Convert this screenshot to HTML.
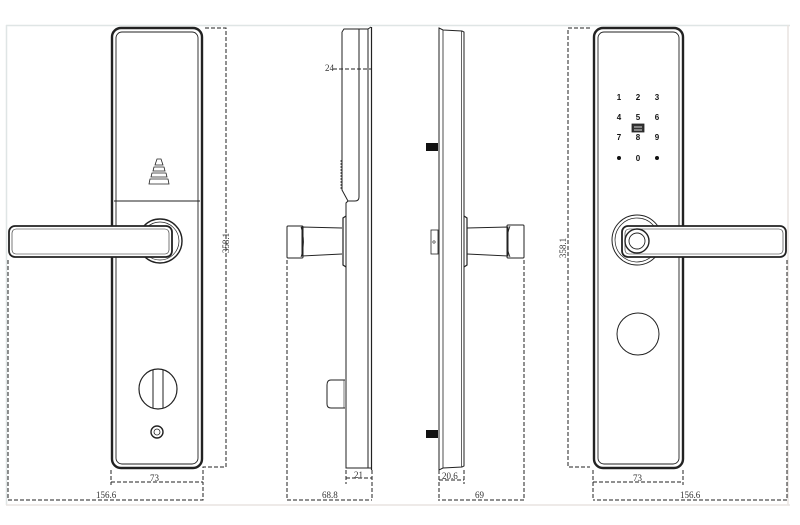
<!DOCTYPE html>
<html><head><meta charset="utf-8"><style>
html,body{margin:0;padding:0;background:#fff;}
svg{display:block;}
text{font-family:"Liberation Serif",serif;font-size:9px;fill:#333;}
.k{font-family:"Liberation Sans",sans-serif;font-size:8px;font-weight:bold;fill:#111;}
</style></head><body>
<svg width="800" height="525" viewBox="0 0 800 525" xmlns="http://www.w3.org/2000/svg">
<rect x="0" y="0" width="800" height="525" fill="#fff"/>
<line x1="6" y1="25.5" x2="790" y2="25.5" stroke="#dfe5e5" stroke-width="1.5"/>
<line x1="6.5" y1="25" x2="6.5" y2="505" stroke="#dfe5e5" stroke-width="1.5"/>
<line x1="788" y1="25" x2="788" y2="505" stroke="#e8e4e0" stroke-width="1.5"/>
<line x1="6" y1="505" x2="790" y2="505" stroke="#e8e4e0" stroke-width="1.5"/>

<g fill="none" stroke="#222">
<rect x="112" y="28" width="90" height="440" rx="9" stroke-width="2.4"/>
<rect x="116" y="32" width="82" height="432" rx="6" stroke-width="0.9"/>
<line x1="114" y1="201" x2="200" y2="201" stroke-width="0.9"/>
<circle cx="160" cy="241" r="22" stroke-width="1.4"/>
<circle cx="160" cy="241" r="19" stroke-width="0.7"/>
<rect x="9" y="226" width="163" height="31" rx="6" fill="#fff" stroke-width="1.8"/>
<rect x="12" y="229" width="157" height="25" rx="4" stroke-width="0.6"/>
<g stroke-width="0.8">
<path d="M157 159 L161 159 L163 165 L155 165 Z"/>
<path d="M154 167 L164 167 L165 171 L153 171 Z"/>
<path d="M152 173 L166 173 L167 177 L151 177 Z"/>
<path d="M150 179 L168 179 L169 184 L149 184 Z"/>
</g>
<ellipse cx="158" cy="389" rx="19" ry="20" stroke-width="1.2"/>
<line x1="153" y1="370" x2="153" y2="408" stroke-width="1"/>
<line x1="163" y1="370" x2="163" y2="408" stroke-width="1"/>
<circle cx="157" cy="432" r="6" stroke-width="1.4"/>
<circle cx="157" cy="432" r="3" stroke-width="0.8"/>

<path d="M342 32 L344 29 L359 29" stroke-width="1"/>
<path d="M342 32 L342 190 L348 201 L346 203 L346 468 L372 468" stroke-width="1"/>
<path d="M359 29 L359 197 Q359 201 355 201 L348 201" stroke-width="1"/>
<path d="M359 29 L368 29 L371 27" stroke-width="1"/>
<line x1="368" y1="29" x2="368" y2="468" stroke-width="1"/>
<line x1="371.5" y1="27" x2="371.5" y2="470" stroke-width="1.2"/>
<line x1="341" y1="160" x2="341" y2="190" stroke-width="0.7" stroke-dasharray="2 1"/>
<path d="M346 216 L343 218 L343 265 L346 267" stroke-width="1.2"/>
<path d="M342 228 L302 227 L302 256 L342 254" stroke-width="1"/>
<rect x="287" y="226" width="16" height="32" rx="1" stroke-width="1"/>
<path d="M301 227 Q306 242 301 257" stroke-width="0.8"/>
<path d="M345 380 L331 380 Q327 380 327 385 L327 404 Q327 408 331 408 L345 408" stroke-width="1"/>
<line x1="344" y1="380" x2="344" y2="408" stroke-width="0.6"/>

<path d="M439 28 L443 30 L462 31 L464 32 L464 466 L462 467 L443 468 L439 470 Z" stroke-width="1"/>
<line x1="443" y1="30" x2="443" y2="468" stroke-width="0.8"/>
<line x1="461.5" y1="31" x2="461.5" y2="467" stroke-width="0.7"/>
<rect x="431" y="230" width="7" height="24" stroke-width="0.8"/>
<circle cx="434" cy="242" r="1.2" stroke-width="0.6"/>
<path d="M464 216 L467 218 L467 265 L464 267" stroke-width="1.2"/>
<path d="M467 228 L508 227 L508 256 L467 254" stroke-width="1"/>
<rect x="507" y="225" width="17" height="33" rx="1" stroke-width="1"/>
<path d="M510 226 Q504 242 510 257" stroke-width="0.8"/>

<rect x="594" y="28" width="89" height="440" rx="9" stroke-width="2.4"/>
<rect x="598" y="32" width="81" height="432" rx="6" stroke-width="0.9"/>
<circle cx="637" cy="240" r="25" stroke-width="1"/>
<circle cx="637" cy="240" r="22" stroke-width="0.7"/>
<rect x="622" y="226" width="164" height="31" rx="6" fill="#fff" stroke-width="1.8"/>
<rect x="625" y="229" width="158" height="25" rx="4" stroke-width="0.6"/>
<circle cx="637" cy="241" r="12" fill="#fff" stroke-width="1.4"/>
<circle cx="637" cy="241" r="8" stroke-width="0.9"/>
<circle cx="638" cy="334" r="21" stroke-width="1"/>
<rect x="632" y="124" width="12" height="8" fill="#333" stroke-width="0.8"/>
<line x1="634" y1="127" x2="642" y2="127" stroke="#fff" stroke-width="0.8"/>
<line x1="634" y1="130" x2="642" y2="130" stroke="#fff" stroke-width="0.8"/>
</g>
<g fill="#111">
<rect x="426" y="143" width="12" height="8"/>
<rect x="426" y="430" width="12" height="8"/>
<circle cx="619" cy="158" r="2"/>
<circle cx="657" cy="158" r="2"/>
</g>
<g class="k" text-anchor="middle">
<text class="k" x="619" y="100">1</text><text class="k" x="638" y="100">2</text><text class="k" x="657" y="100">3</text>
<text class="k" x="619" y="120">4</text><text class="k" x="638" y="120">5</text><text class="k" x="657" y="120">6</text>
<text class="k" x="619" y="140">7</text><text class="k" x="638" y="140">8</text><text class="k" x="657" y="140">9</text>
<text class="k" x="638" y="161">0</text>
</g>

<g fill="none" stroke="#222" stroke-width="1" stroke-dasharray="4 2">
<path d="M205 28 L226 28 L226 467 L203 467 L203 485"/>
<path d="M111 470 L111 485"/>
<path d="M111 482 L203 482"/>
<path d="M8 260 L8 500 L203 500 L203 485"/>
<path d="M333 69 L372 69"/>
<path d="M346 470 L346 484 M372 470 L372 500 M346 478 L372 478"/>
<path d="M287 260 L287 500 L372 500"/>
<path d="M439 470 L439 500 M464 470 L464 484 M439 480 L464 480"/>
<path d="M524 260 L524 500 L438 500"/>
<path d="M590 28 L568 28 L568 467 L590 467"/>
<path d="M593 470 L593 500 M683 470 L683 485 M593 482 L683 482"/>
<path d="M787 260 L787 500 L593 500"/>
</g>
<text x="150" y="481">73</text>
<text x="96" y="498">156.6</text>
<text x="229" y="243" transform="rotate(-90 229 243)" text-anchor="middle">358.1</text>
<text x="325" y="71">24</text>
<text x="354" y="478">21</text>
<text x="322" y="498">68.8</text>
<text x="442" y="479">20.6</text>
<text x="475" y="498">69</text>
<text x="566" y="248" transform="rotate(-90 566 248)" text-anchor="middle">358.1</text>
<text x="633" y="481">73</text>
<text x="680" y="498">156.6</text>
</svg>
</body></html>
